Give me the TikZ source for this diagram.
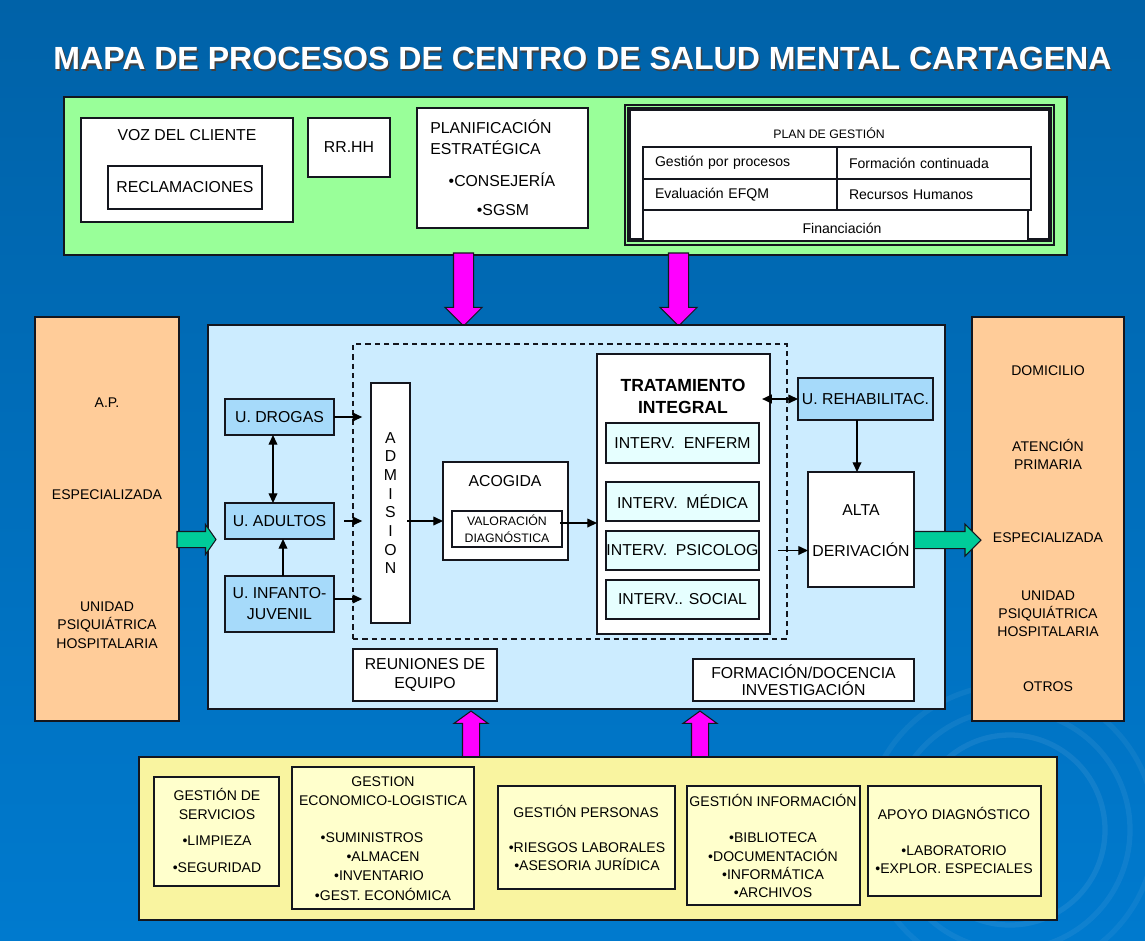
\documentclass[tikz,border=0pt]{standalone}
\usepackage{fontspec}
\setmainfont{Liberation Sans}
\usepackage{tikz}
\usetikzlibrary{arrows.meta,positioning,calc,shapes.arrows}
\definecolor{bgtop}{RGB}{0,98,168}
\definecolor{bgbottom}{RGB}{0,122,206}
\definecolor{mintpanel}{RGB}{153,255,153}
\definecolor{skypanel}{RGB}{204,236,255}
\definecolor{peach}{RGB}{255,204,153}
\definecolor{unitblue}{RGB}{166,218,250}
\definecolor{intervcyan}{RGB}{230,255,255}
\definecolor{sandpanel}{RGB}{249,244,160}
\definecolor{sandbox}{RGB}{255,255,204}
\definecolor{magentaarrow}{RGB}{255,0,255}
\definecolor{tealarrow}{RGB}{0,204,153}
\definecolor{ink}{RGB}{20,22,30}

\begin{document}
\begin{tikzpicture}[
  x=0.02cm, y=-0.02cm,
  wh/.style 2 args={minimum width=#1*0.02cm, minimum height=#2*0.02cm},
  panel/.style={rectangle, draw=ink, line width=0.8pt, inner sep=0pt, outer sep=0pt},
  box/.style={rectangle, draw=ink, fill=white, line width=1pt, inner sep=0pt, outer sep=0pt,
    align=center, font=\fontsize{9}{11}\selectfont},
  unit/.style={box, fill=unitblue},
  interv/.style={box, fill=intervcyan, line width=0.6pt},
  cell/.style={rectangle, draw=ink, fill=white, line width=0.7pt, inner sep=0pt, inner xsep=0.24cm,
    outer sep=0pt, align=left, text width=3.4cm, font=\fontsize{8}{10}\selectfont},
  lowbox/.style={box, fill=sandbox, line width=1.1pt},
  txt/.style={inner sep=0pt, align=center, font=\fontsize{9}{11}\selectfont},
  small/.style={txt, font=\fontsize{8}{10.4}\selectfont},
  arr/.style={-{Triangle[length=5.5pt,width=5pt]}, line width=0.7pt, draw=black},
  darr/.style={{Triangle[length=5.5pt,width=5pt]}-{Triangle[length=5.5pt,width=5pt]}, line width=0.7pt, draw=black},
  pinkblk/.style={single arrow, draw=ink, fill=magentaarrow, line width=0.6pt,
    outer sep=0pt, anchor=tail},
  tealblk/.style={single arrow, draw=ink, fill=tealarrow, line width=0.6pt,
    outer sep=0pt, anchor=tail}
]
\useasboundingbox (0,0) rectangle (1145,940);
\shade[top color=bgtop, bottom color=bgbottom] (0,0) rectangle (1145,940);
\begin{scope}
\clip (0,0) rectangle (1145,940);
\draw[white, opacity=0.07, line width=3pt] (1010,830) circle[radius=95];
\draw[white, opacity=0.06, line width=3pt] (1010,830) circle[radius=120];
\draw[white, opacity=0.05, line width=3pt] (1010,830) circle[radius=145];
\end{scope}

\node[inner sep=0pt, text=black!75, font=\fontsize{18.25}{20}\selectfont\bfseries] (titleshadow) at (584,60) {MAPA DE PROCESOS DE CENTRO DE SALUD MENTAL CARTAGENA};
\node[inner sep=0pt, text=white, font=\fontsize{18.25}{20}\selectfont\bfseries] (title) at (582.5,58) {MAPA DE PROCESOS DE CENTRO DE SALUD MENTAL CARTAGENA};

\node[panel, fill=mintpanel, wh={1003}{158}] (strategic) at (565.5,176) {};
\node[box, wh={212}{104}] (voice) at (187,170) {};
\node[txt] (voicetitle) at (187,135) {VOZ DEL CLIENTE};
\node[box, wh={154}{43}] (claims) at (185,187.5) {RECLAMACIONES};
\node[box, wh={82}{59}] (hr) at (349,147.5) {RR.HH};
\node[box, wh={171}{120}] (planning) at (502.5,168) {};
\node[txt, anchor=west, align=left, font=\fontsize{9}{12}\selectfont] (planningtitle) at (430,137.5) {PLANIFICACIÓN\\ESTRATÉGICA};
\node[txt] (council) at (502,180) {•CONSEJERÍA};
\node[txt] (sgsm) at (503,210) {•SGSM};
\node[panel, line width=0.6pt, wh={429}{140}] (planouter) at (839.5,175) {};
\node[panel, fill=white, line width=2pt, wh={421}{131}] (planframe) at (839.5,174.5) {};
\node[txt, font=\fontsize{7}{9}\selectfont] (plantitle) at (829,133) {PLAN DE GESTIÓN};
\node[cell, wh={194}{32}] (byprocess) at (740,163) {Gestión por procesos};
\node[cell, wh={194}{32}] (ongoing) at (934,163) {Formación continuada};
\node[cell, wh={194}{31}] (efqm) at (740,194.5) {Evaluación EFQM};
\node[cell, wh={194}{31}] (staff) at (934,194.5) {Recursos Humanos};
\node[panel, fill=white, line width=0.7pt, wh={385}{31}] (funding) at (835.5,225.5) {};
\node[txt, font=\fontsize{8}{10}\selectfont] (fundingtext) at (842,228.5) {Financiación};

\node[pinkblk, inner sep=0.19cm, minimum height=1.46cm, single arrow head extend=0.17cm, shape border rotate=270] (downleft) at (463.5,253) {};
\node[pinkblk, inner sep=0.19cm, minimum height=1.46cm, single arrow head extend=0.17cm, shape border rotate=270] (downright) at (678.5,253) {};

\node[panel, fill=peach, wh={144}{404}] (origins) at (107,519) {};
\node[small] (ap) at (107,403) {A.P.};
\node[small] (specialisedin) at (107,495) {ESPECIALIZADA};
\node[small] (wardin) at (107,625) {UNIDAD\\PSIQUIÁTRICA\\HOSPITALARIA};
\node[panel, fill=peach, wh={152}{404}] (destinations) at (1048,519) {};
\node[small] (home) at (1048,371) {DOMICILIO};
\node[small] (primary) at (1048,454.5) {ATENCIÓN\\PRIMARIA};
\node[small] (specialisedout) at (1048,538) {ESPECIALIZADA};
\node[small] (wardout) at (1048,613.5) {UNIDAD\\PSIQUIÁTRICA\\HOSPITALARIA};
\node[small] (others) at (1048,687) {OTROS};

\node[panel, fill=skypanel, wh={737}{384}] (care) at (576.5,517) {};
\node[rectangle, draw=ink, dash pattern=on 3pt off 2.3pt, line width=0.7pt, inner sep=0pt, wh={434}{295}] (clinical) at (570,491.5) {};

\node[tealblk, inner sep=0.15cm, minimum height=0.78cm, single arrow head extend=0.14cm, single arrow tip angle=110] (inflow) at (177,539.5) {};
\node[tealblk, inner sep=0.16cm, minimum height=1.34cm, single arrow head extend=0.15cm] (outflow) at (914,540) {};

\node[unit, wh={109}{36}] (drugs) at (279.5,417) {U. DROGAS};
\node[unit, wh={109}{36}] (adults) at (279.5,521) {U. ADULTOS};
\node[unit, wh={109}{56}, font=\fontsize{9}{12}\selectfont] (youth) at (279.5,604) {U. INFANTO-\\JUVENIL};
\node[box, wh={39}{240}, font=\fontsize{9}{10.6}\selectfont] (admission) at (390.5,503) {A\\D\\M\\I\\S\\I\\O\\N};
\node[box, wh={125}{98}] (reception) at (505.5,511) {};
\node[txt] (receptiontitle) at (505,481) {ACOGIDA};
\node[box, wh={110}{36}, font=\fontsize{7}{9.7}\selectfont] (assessment) at (507,529) {VALORACIÓN\\DIAGNÓSTICA};
\node[box, wh={173}{280}, line width=1.4pt] (treatment) at (683.5,494) {};
\node[txt, font=\fontsize{10}{12.5}\selectfont\bfseries] (treatmenttitle) at (683,396) {TRATAMIENTO\\INTEGRAL};
\node[interv, wh={153}{40}] (nursing) at (682.5,443) {INTERV.~~ENFERM};
\node[interv, wh={153}{39}] (medical) at (682.5,501.5) {INTERV.~~MÉDICA};
\node[interv, wh={153}{39}] (psych) at (682.5,550.5) {INTERV.~~PSICOLOG};
\node[interv, wh={153}{39}] (social) at (682.5,599.5) {INTERV.. SOCIAL};
\node[unit, wh={135}{42}] (rehab) at (865.5,399) {U. REHABILITAC.};
\node[box, wh={106}{115}] (discharge) at (861,529.5) {};
\node[txt] (dischargetop) at (861,510) {ALTA};
\node[txt] (dischargebottom) at (861,550) {DERIVACIÓN};
\node[box, wh={144}{52}, font=\fontsize{9}{10.8}\selectfont] (meetings) at (425,675) {REUNIONES DE\\EQUIPO};
\node[box, wh={221}{42}, font=\fontsize{9}{9.7}\selectfont] (training) at (803.5,680) {FORMACIÓN/DOCENCIA\\INVESTIGACIÓN};

\coordinate (youthout) at (334,599);
\coordinate (drugsadults) at (273,0);
\coordinate (youthadults) at (283,0);
\coordinate (admout) at (407,521);
\coordinate (assessout) at (560,523);
\coordinate (rehabdown) at (857,0);
\draw[arr, shorten >=5pt] (drugs.east) -- (drugs.east -| admission.west);
\draw[arr, shorten <=5.7pt, shorten >=5pt] (adults.east) -- (adults.east -| admission.west);
\draw[arr, shorten >=5pt] (youthout) -- (youthout -| admission.west);
\draw[darr] (drugs.south -| drugsadults) -- (adults.north -| drugsadults);
\draw[arr] (youth.north -| youthadults) -- (adults.south -| youthadults);
\draw[arr] (admout) -- (admout -| reception.west);
\draw[arr] (assessout) -- (assessout -| treatment.west);
\draw[darr, shorten >=-4.5pt] (rehab.west) -- (rehab.west -| treatment.east);
\draw[arr] (rehab.south -| rehabdown) -- (discharge.north -| rehabdown);
\draw[arr, shorten <=10.8pt] (psych.east) -- (psych.east -| discharge.west);

\node[pinkblk, inner sep=0.16cm, minimum height=0.92cm, single arrow head extend=0.17cm, single arrow tip angle=108, shape border rotate=90] (upleft) at (471,757) {};
\node[pinkblk, inner sep=0.16cm, minimum height=0.92cm, single arrow head extend=0.17cm, single arrow tip angle=108, shape border rotate=90] (upright) at (700,757) {};

\node[panel, fill=sandpanel, wh={918}{163}] (support) at (598,838.5) {};
\node[lowbox, wh={125}{109}] (services) at (216.5,831.5) {};
\node[small, font=\fontsize{8}{10.8}\selectfont] (servicestitle) at (217,803.5) {GESTIÓN DE\\SERVICIOS};
\node[small] (cleaning) at (217,841) {•LIMPIEZA};
\node[small] (security) at (217,868) {•SEGURIDAD};
\node[lowbox, wh={182}{142}] (logistics) at (383,838) {};
\node[small, font=\fontsize{8}{10.8}\selectfont] (logisticstitle) at (383,791.5) {GESTION\\ECONOMICO-LOGISTICA};
\node[small] (supplies) at (372,838) {•SUMINISTROS};
\node[small] (store) at (383,857) {•ALMACEN};
\node[small] (inventory) at (379,876) {•INVENTARIO};
\node[small] (finance) at (383,894) {•GEST. ECONÓMICA};
\node[lowbox, wh={177}{103}] (people) at (586.5,837.5) {};
\node[small] (peopletitle) at (586,811) {GESTIÓN PERSONAS};
\node[small] (peopleitems) at (587,857) {•RIESGOS LABORALES\\•ASESORIA JURÍDICA};
\node[lowbox, wh={173}{119}] (information) at (773.5,845.5) {};
\node[small] (informationtitle) at (773,800) {GESTIÓN INFORMACIÓN};
\node[small] (informationitems) at (773,865.5) {•BIBLIOTECA\\•DOCUMENTACIÓN\\•INFORMÁTICA\\•ARCHIVOS};
\node[lowbox, wh={173}{110}] (diagnostics) at (954.5,841) {};
\node[small] (diagnosticstitle) at (954,813) {APOYO DIAGNÓSTICO};
\node[small] (diagnosticsitems) at (954,860) {•LABORATORIO\\•EXPLOR. ESPECIALES};
\end{tikzpicture}
\end{document}
